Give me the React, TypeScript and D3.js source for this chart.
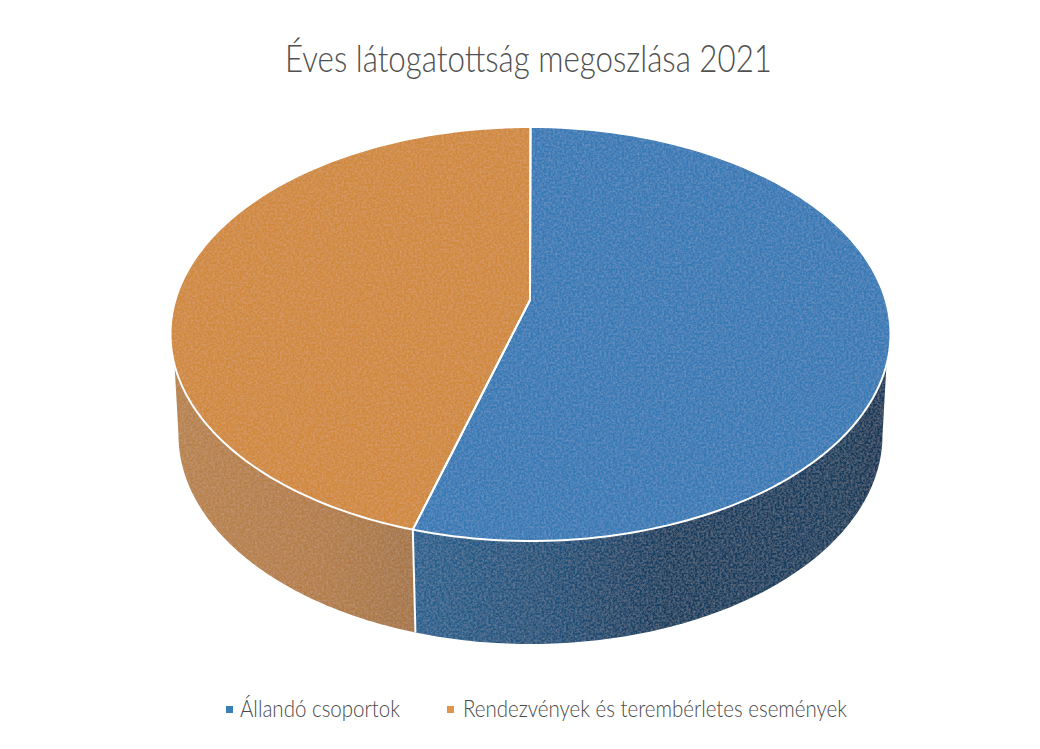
import React from "react";
import * as d3 from "d3";

const title = "Éves látogatottság megoszlása 2021";
const categories = ["Állandó csoportok", "Rendezvények és terembérletes események"];
const shares = [55.3, 44.7];
const topColors = ["#3579b5", "#d0883a"];
const legendColors = ["#3b7fb8", "#e0954a"];

const W = 1040;
const H = 749;
const top = { cx: 530.5, cy: 334, rx: 360, ry: 207 };
const bottom = { cx: 530.5, cy: 435, rx: 352, ry: 209 };
const apex: [number, number] = [530, 300];
const wallStart = (98.6 * Math.PI) / 180;

type E = typeof top;
const pt = (e: E, a: number): [number, number] => [e.cx + e.rx * Math.sin(a), e.cy - e.ry * Math.cos(a)];
const sweep = (e: E, a0: number, a1: number) => {
  const n = 120;
  return d3.range(n + 1).map((i) => pt(e, a0 + ((a1 - a0) * i) / n));
};
const line = d3.line<[number, number]>().x((d) => d[0]).y((d) => d[1]);

export default function App() {
  const arcs = d3.pie<number>().sort(null)(shares);
  const seam = arcs[0].endAngle;
  const walls = [
    { a0: wallStart, a1: seam, b0: seam, b1: Math.PI / 2, fill: "url(#wallBlue)" },
    { a0: seam, a1: 2 * Math.PI - wallStart, b0: 1.5 * Math.PI, b1: seam, fill: "url(#wallOrange)" },
  ];
  return (
    <svg
      width={W}
      height={H}
      viewBox={`0 0 ${W} ${H}`}
      style={{ position: "absolute", left: 0, top: 0, background: "#fff" }}
    >
      <defs>
        <linearGradient id="wallBlue" gradientUnits="userSpaceOnUse" x1="415" y1="0" x2="890" y2="0">
          <stop offset="0" stopColor="#27618f" />
          <stop offset="0.3" stopColor="#1f5078" />
          <stop offset="0.55" stopColor="#163c5e" />
          <stop offset="0.85" stopColor="#183e5e" />
          <stop offset="1" stopColor="#143756" />
        </linearGradient>
        <linearGradient id="wallOrange" gradientUnits="userSpaceOnUse" x1="172" y1="0" x2="415" y2="0">
          <stop offset="0" stopColor="#b8824c" />
          <stop offset="0.6" stopColor="#b47d46" />
          <stop offset="1" stopColor="#a67545" />
        </linearGradient>
        <filter id="grain" x="0" y="0" width="100%" height="100%">
          <feTurbulence type="fractalNoise" baseFrequency="0.45" numOctaves="4" seed="4" result="n" />
          <feColorMatrix
            in="n"
            type="matrix"
            values="0 0 0 0 1  0 0 0 0 1  0 0 0 0 1  0.22 0 0 0 -0.075"
            result="speck"
          />
          <feComposite in="speck" in2="SourceAlpha" operator="in" result="clipped" />
          <feMerge>
            <feMergeNode in="SourceGraphic" />
            <feMergeNode in="clipped" />
          </feMerge>
        </filter>
      </defs>

      <text
        x={528.5}
        y={72}
        textAnchor="middle"
        fontFamily="Lato, 'Open Sans', sans-serif"
        fontSize={38}
        fontWeight={300}
        fill="#505050"
        textLength={487}
        lengthAdjust="spacingAndGlyphs"
      >
        {title}
      </text>

      <g filter="url(#grain)">
        {walls.map((w, i) => (
          <path
            key={i}
            d={`${line(sweep(top, w.a0, w.a1))}L${line(sweep(bottom, w.b0, w.b1))!.slice(1)}Z`}
            fill={w.fill}
          />
        ))}
        {arcs.map((a, i) => (
          <path
            key={i}
            d={`${line([apex, ...sweep(top, a.startAngle, a.endAngle)])}Z`}
            fill={topColors[i]}
          />
        ))}
      </g>

      {arcs.map((a, i) => (
        <path
          key={i}
          d={line([apex, ...sweep(top, a.startAngle, a.endAngle)]) + "Z"}
          fill="none"
          stroke="#fff"
          strokeWidth={2}
          strokeLinejoin="round"
        />
      ))}
      <path d={line([pt(top, seam), pt(bottom, seam)]) ?? ""} stroke="#fff" strokeWidth={2} fill="none" />

      {categories.map((c, i) => {
        const mx = [226, 447][i];
        const tx = [240, 463][i];
        const tw = [160, 384][i];
        return (
          <g key={c}>
            <rect x={mx} y={706} width={7} height={7} fill={legendColors[i]} />
            <text
              x={tx}
              y={717}
              fontFamily="Lato, 'Open Sans', sans-serif"
              fontSize={24}
              fontWeight={300}
              fill="#4a4a4a"
              textLength={tw}
              lengthAdjust="spacingAndGlyphs"
            >
              {c}
            </text>
          </g>
        );
      })}
    </svg>
  );
}
